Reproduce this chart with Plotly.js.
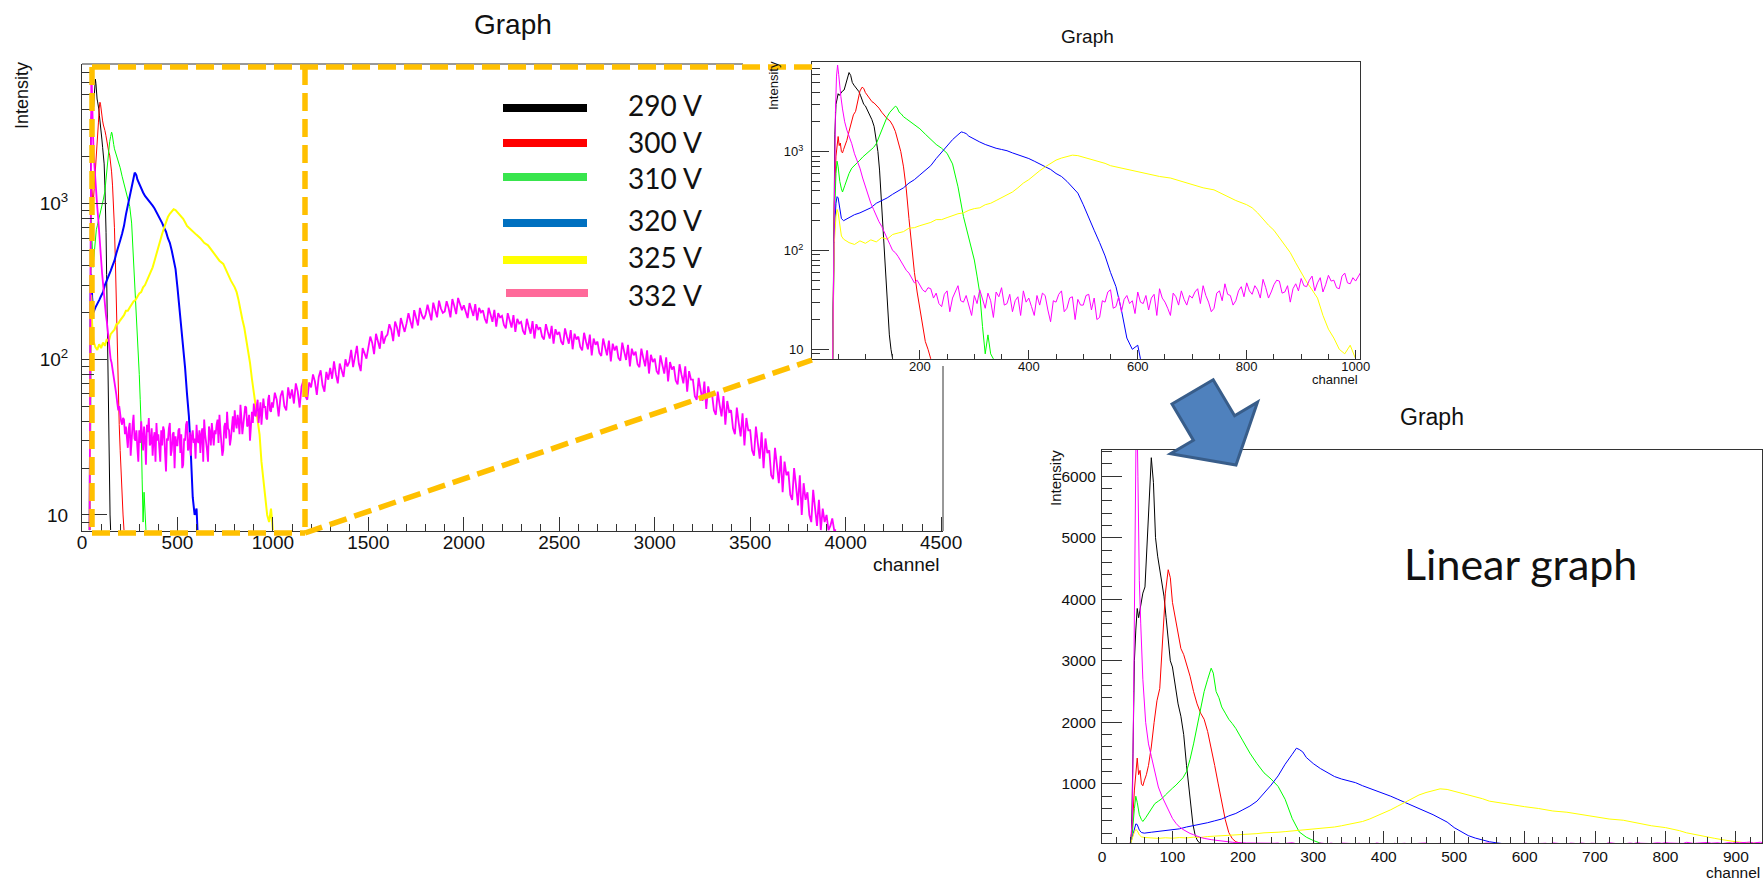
<!DOCTYPE html>
<html><head><meta charset="utf-8">
<script src="https://cdn.plot.ly/plotly-3.0.1.min.js"></script>
<style>html,body{margin:0;padding:0;background:#fff;} #chart{width:1764px;height:882px;}</style>
</head><body><div id="chart"></div>
<script>
// ---------------- data ----------------
const seriesNames = ['290 V','300 V','310 V','320 V','325 V','332 V'];
const traceColors = ['#000000','#ff0000','#00ff00','#0000ff','#ffff00','#ff00ff'];
const legendColors = ['#000000','#ff0000','#38e54d','#0070c0','#ffff00','#ff6a9a'];

const ch290 = [40,42,44,46,48,50,52,55,58,61,64,67,70,73,76,79,82,85,88,91,94,97,100,104,108,112,116,120,123,126,129,132,135,138,141,144,147,150];
const val290 = [8,200,1500,3000,3500,3850,3700,3900,4100,4200,4900,5700,6300,5900,5000,4700,4500,4300,4050,3700,3300,3000,2900,2600,2300,2100,1800,1300,1000,650,350,180,90,45,22,14,10,8];

const ch300 = [40,43,46,48,50,52,54,56,58,60,63,66,70,74,78,82,86,90,94,97,100,104,108,112,116,120,125,130,135,140,145,150,155,160,165,170,175,180,185,190,195,200,205,210,215,220];
const val300 = [8,300,900,1200,1420,1150,1220,1000,970,1050,1150,1300,1600,2000,2350,2550,3300,4100,4480,4350,3950,3700,3400,3200,3100,2950,2750,2500,2300,2150,2050,1850,1600,1300,1000,700,420,210,110,60,38,26,18,12,10,8];

const ch310 = [40,43,46,48,50,53,56,58,62,66,70,75,80,85,90,95,100,105,110,115,120,125,130,135,140,145,150,155,158,162,166,170,175,180,185,190,200,210,220,230,240,250,260,270,280,290,300,305,310,315,320,325,330,335];
const val310 = [8,200,600,800,700,500,420,390,450,520,600,680,720,760,820,880,930,980,1040,1100,1200,1400,1650,1950,2250,2500,2700,2880,2800,2500,2400,2250,2150,2050,1980,1900,1700,1500,1330,1180,1080,960,750,440,220,135,80,55,37,17,9,14,9,8];

const ch320 = [40,43,46,48,50,53,56,60,70,80,90,100,110,120,130,140,150,160,170,180,190,200,210,220,230,240,250,260,270,276,280,285,290,300,310,320,330,340,350,360,370,380,390,400,410,420,430,440,450,460,470,480,490,500,510,520,530,540,550,560,570,580,590,600,605];
const val320 = [8,150,300,350,340,250,210,200,215,230,240,255,270,300,320,340,370,400,430,480,520,580,640,720,850,980,1130,1320,1480,1580,1560,1520,1430,1330,1250,1180,1120,1080,1050,1020,970,930,880,850,800,750,700,660,600,560,500,440,380,290,220,160,120,88,60,43,25,13,10,11,8];

const ch325 = [40,43,46,48,50,53,56,60,65,70,80,90,100,110,120,130,140,150,160,170,180,190,200,210,220,230,240,250,260,270,280,290,300,310,320,330,340,350,360,370,380,390,400,410,420,430,440,450,460,470,480,490,500,510,520,530,540,550,560,580,600,620,640,660,680,700,720,740,760,780,800,810,820,830,840,850,860,870,880,890,900,910,920,930,940,950,960,970,980,990,1000];
const val325 = [8,120,220,260,240,170,140,130,125,120,115,125,118,128,122,135,130,145,150,155,168,170,178,185,192,205,205,215,225,235,240,255,265,270,290,300,320,340,365,390,430,480,520,580,640,700,760,820,860,890,920,910,880,850,820,800,760,720,700,660,630,600,560,540,500,470,430,410,360,320,290,270,240,205,180,160,135,115,95,75,60,48,40,33,22,16,13,10,9,11,8];

const ch332Head = [40,43,45,47,49,51,53,55,58,62,66,70,75,80,85,90,95,100,105,110,115,120,125,130,135,140,145,150,155,160,165,170,175,180,185,190,195,200,205,210,215];
const val332Head = [8,400,2500,5800,7500,6000,4300,3600,2700,2000,1650,1450,1200,950,800,680,540,440,360,300,260,220,195,175,150,130,115,100,95,87,78,69,63,59,52,47,50,44,40,38,42];
// 332 V, 5-channel bins from channel 220 to 995
const tail332aFirstChannel = 220, tail332aBinWidth = 5;
const val332TailA = [
 41,33,37,29,27,36,39,24,33,38,44,31,30,35,27,22,
 35,29,40,33,26,37,31,21,38,34,42,28,29,36,24,31,34,22,39,30,
 33,27,22,35,28,37,35,25,19,31,30,36,39,24,26,33,34,20,32,28,
 28,35,36,25,33,20,21,31,30,38,40,26,27,34,24,32,35,29,31,23,
 38,30,29,35,25,33,36,22,41,33,30,26,22,37,34,28,39,32,28,35,
 33,38,41,29,44,35,30,24,26,37,39,31,46,36,35,28,31,39,43,34,
 47,39,36,44,40,33,51,42,33,38,45,50,49,37,38,44,30,41,46,39,
 52,44,43,50,55,39,47,53,38,45,56,49,50,42,41,55,59,47,46,53
];
// 332 V, 10-channel bins from channel 1000 to 3950
const tail332bFirstChannel = 1000, tail332bBinWidth = 10;
const val332TailB = [
 49,61,55,43,58,63,50,47,66,56,
 64,52,70,62,49,67,73,58,55,71,
 66,80,72,59,77,85,68,62,83,74,
 88,75,97,80,70,94,86,77,100,90,
 96,115,89,107,122,94,84,118,110,101,
 119,140,128,108,146,133,117,152,126,139,
 144,168,155,131,175,160,140,184,163,150,
 170,198,176,158,207,188,165,214,192,181,
 194,224,203,178,231,210,186,238,212,199,
 203,236,214,186,244,220,195,248,225,207,
 222,198,184,230,210,190,226,178,214,200,
 206,182,170,214,194,174,208,162,198,186,
 190,166,158,198,178,160,192,150,182,170,
 174,152,144,182,162,146,176,136,168,156,
 160,140,134,168,150,136,164,126,156,144,
 150,130,124,158,140,126,154,116,146,134,
 140,120,114,148,130,116,144,106,136,124,
 130,110,105,136,120,106,132,97,126,114,
 122,102,98,128,112,99,124,90,117,106,
 112,93,89,117,102,90,114,81,107,96,
 101,84,80,106,92,81,103,72,96,86,
 90,73,69,93,80,70,90,62,84,74,
 74,58,55,76,64,54,72,48,67,58,
 60,47,44,62,51,43,58,38,54,46,
 47,36,33,49,39,32,45,28,42,35,
 35,26,24,37,29,23,34,20,31,25,
 26,18,17,27,21,16,24,14,22,18,
 19,13.5,12.5,20,15.5,11.5,18,10,16,12.5,
 14,10,9,14.5,11,8.5,12.5,8,11,9,
 10,8,8.5,9.5,8,8
];

// axis tick values
const mainXTicks = [0,500,1000,1500,2000,2500,3000,3500,4000,4500];
const logTickVals = [10,100,1000];
const logTickText = ['10','10<sup>2</sup>','10<sup>3</sup>'];
const logMinorVals = [8,9,20,30,40,50,60,70,80,90,200,300,400,500,600,700,800,900,2000,3000,4000,5000,6000,7000,8000,9000];
const insetXTicks = [200,400,600,800,1000];
const linXTicks = [0,100,200,300,400,500,600,700,800,900];
const linYTicks = [1000,2000,3000,4000,5000,6000];

// ---------------- build ----------------
const ch332 = ch332Head
  .concat(val332TailA.map((_, i) => tail332aFirstChannel + i * tail332aBinWidth))
  .concat(val332TailB.map((_, i) => tail332bFirstChannel + i * tail332bBinWidth));
const val332 = val332Head.concat(val332TailA, val332TailB);
const seriesCh = [ch290, ch300, ch310, ch320, ch325, ch332];
const seriesVal = [val290, val300, val310, val320, val325, val332];

const W = 1764, H = 882;
const fx = p => p / W;
const fy = p => 1 - p / H;

const traces = [];
const panels = [
  {xa:'x',  ya:'y',  widths:[1,1,1,2,2,1.8]},
  {xa:'x2', ya:'y2', widths:[1,1,1,1,1,1]},
  {xa:'x3', ya:'y3', widths:[1,1,1,1,1,1]}
];
panels.forEach(p => {
  seriesNames.forEach((name, k) => {
    traces.push({
      type:'scatter', mode:'lines', name: name,
      x: seriesCh[k], y: seriesVal[k],
      xaxis: p.xa, yaxis: p.ya,
      line: {color: traceColors[k], width: p.widths[k]},
      hoverinfo:'skip', showlegend:false
    });
  });
});

const rootFont = 'Liberation Sans, Arial, Helvetica, sans-serif';
const axCol = '#333';
const baseAx = {showgrid:false, zeroline:false, showline:true, linecolor:axCol, linewidth:1,
  ticks:'inside', tickcolor:axCol, tickwidth:1, fixedrange:true};

const layout = {
  width: W, height: H,
  margin: {l:0, r:0, t:0, b:0, pad:0},
  paper_bgcolor:'#ffffff', plot_bgcolor:'rgba(0,0,0,0)',
  showlegend:false,
  xaxis: Object.assign({}, baseAx, {
    domain:[fx(82), fx(943)], range:[0, 4510], anchor:'y',
    tickmode:'array', tickvals: mainXTicks, ticklen:14,
    tickfont:{family:rootFont, size:19, color:'#111'}, ticklabelstandoff:-6,
    minor:{dtick:100, tick0:0, ticks:'inside', ticklen:7, tickcolor:axCol, tickwidth:1}
  }),
  yaxis: Object.assign({}, baseAx, {
    domain:[fy(531), fy(64)], type:'log', range:[0.897, 3.897], anchor:'x',
    tickmode:'array', tickvals: logTickVals, ticktext: logTickText, ticklen:25,
    tickfont:{family:rootFont, size:19, color:'#111'}, ticklabelstandoff:9,
    minor:{tickmode:'array', tickvals: logMinorVals, ticks:'inside', ticklen:12, tickcolor:axCol, tickwidth:1}
  }),
  xaxis2: Object.assign({}, baseAx, {
    domain:[fx(812), fx(1360)], range:[2, 1008], anchor:'y2', mirror:true,
    tickmode:'array', tickvals: insetXTicks, ticklen:9,
    tickfont:{family:rootFont, size:13, color:'#111'}, ticklabelstandoff:-5,
    minor:{dtick:50, tick0:0, ticks:'inside', ticklen:5, tickcolor:axCol, tickwidth:1}
  }),
  yaxis2: Object.assign({}, baseAx, {
    domain:[fy(359), fy(62)], type:'log', range:[0.902, 3.906], anchor:'x2', mirror:true,
    tickmode:'array', tickvals: logTickVals, ticktext: logTickText, ticklen:17,
    tickfont:{family:rootFont, size:13, color:'#111'}, ticklabelstandoff:5,
    minor:{tickmode:'array', tickvals: logMinorVals, ticks:'inside', ticklen:8, tickcolor:axCol, tickwidth:1}
  }),
  xaxis3: Object.assign({}, baseAx, {
    domain:[fx(1102), fx(1762)], range:[0, 937], anchor:'y3', mirror:true,
    tickmode:'array', tickvals: linXTicks, ticklen:12,
    tickfont:{family:rootFont, size:15.5, color:'#111'}, ticklabelstandoff:-1,
    minor:{dtick:20, tick0:0, ticks:'inside', ticklen:6, tickcolor:axCol, tickwidth:1}
  }),
  yaxis3: Object.assign({}, baseAx, {
    domain:[fy(843), fy(450)], range:[40, 6425], anchor:'x3', mirror:true,
    tickmode:'array', tickvals: linYTicks, ticklen:20,
    tickfont:{family:rootFont, size:15.5, color:'#111'}, ticklabelstandoff:2,
    minor:{dtick:200, tick0:0, ticks:'inside', ticklen:10, tickcolor:axCol, tickwidth:1}
  }),
  shapes: [],
  annotations: []
};

function pline(x0,y0,x1,y1,color,width,dash){
  return {type:'line', xref:'paper', yref:'paper', x0:fx(x0), y0:fy(y0), x1:fx(x1), y1:fy(y1),
    line:{color:color, width:width, dash:dash||'solid'}, layer:'above'};
}
// main frame parts not hidden by the pasted inset
layout.shapes.push(pline(82,64,743,64,axCol,1));
layout.shapes.push(pline(943,366,943,531,axCol,1));

// orange zoom box + connectors
const orange = '#ffc000', od = '18px,8px';
layout.shapes.push(pline(92,67,812,67,orange,5.5,od));
layout.shapes.push(pline(92,67,92,533,orange,5.5,od));
layout.shapes.push(pline(92,533,305,533,orange,5.5,od));
layout.shapes.push(pline(305,67,305,533,orange,5.5,od));
layout.shapes.push(pline(305,533,812,360,orange,5.5,od));

// legend (drawn lines + labels)
const legY = [108,143,177,223,260,293];
const legTextY = [105,142,178,220,257,295];
seriesNames.forEach((name,k) => {
  const x0 = k === 5 ? 506 : 503, x1 = k === 5 ? 588 : 587;
  layout.shapes.push(pline(x0, legY[k], x1, legY[k], legendColors[k], 8));
  layout.annotations.push({xref:'paper', yref:'paper', x:fx(626), y:fy(legTextY[k]),
    xanchor:'left', yanchor:'middle', showarrow:false, text:name,
    font:{family:'Lato, Noto Sans, sans-serif', size:28, color:'#111'}});
});

// blue block arrow
const arrowPts = [[1172,404],[1193.4,440.2],[1170.5,453.8],[1236,465],[1257.5,402.2],[1234.6,415.8],[1213.2,379.7]];
const arrowPath = 'M ' + arrowPts.map(p => fx(p[0]).toFixed(5) + ' ' + fy(p[1]).toFixed(5)).join(' L ') + ' Z';
layout.shapes.push({type:'path', xref:'paper', yref:'paper', path: arrowPath,
  fillcolor:'#4f81bd', line:{color:'#385d8a', width:3}, layer:'above'});

function ann(text, x, y, size, opts){
  return Object.assign({xref:'paper', yref:'paper', x:fx(x), y:fy(y), text:text, showarrow:false,
    xanchor:'center', yanchor:'middle', font:{family:rootFont, size:size, color:'#111'}}, opts||{});
}
// titles and axis labels
layout.annotations.push(ann('Graph', 513, 24, 28));
layout.annotations.push(ann('Intensity', 22, 96, 18, {textangle:-90}));
layout.annotations.push(ann('channel', 942, 564, 19, {xanchor:'right'}));

layout.annotations.push(ann('Graph', 1087, 36, 19));
layout.annotations.push(ann('Intensity', 773, 86, 13, {textangle:-90}));
layout.annotations.push(ann('channel', 1360, 379, 13, {xanchor:'right'}));

layout.annotations.push(ann('Graph', 1432, 417, 23));
layout.annotations.push(ann('Intensity', 1055, 478, 15, {textangle:-90}));
layout.annotations.push(ann('channel', 1762, 872, 15.5, {xanchor:'right'}));

layout.annotations.push(ann('Linear graph', 1402, 563, 43,
  {xanchor:'left', font:{family:'Lato, Noto Sans, sans-serif', size:43, color:'#111'}}));

Plotly.newPlot('chart', traces, layout, {staticPlot:true, displayModeBar:false});
</script>
</body></html>
